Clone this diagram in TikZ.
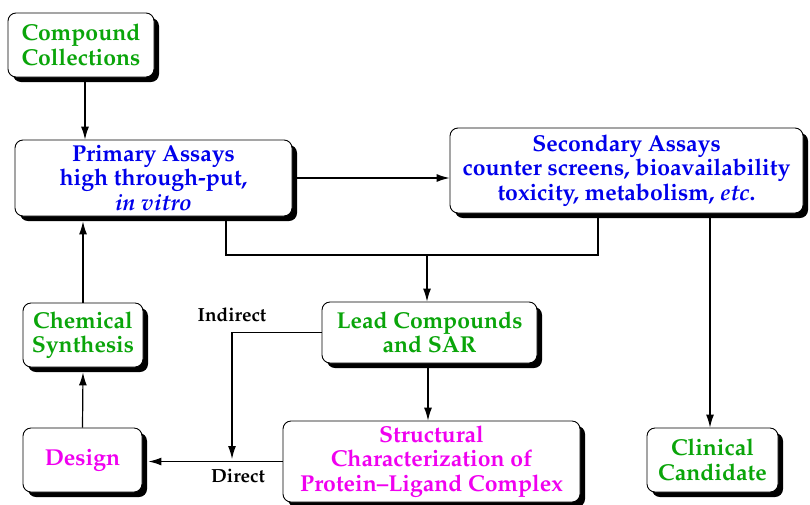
\documentclass[tikz,border=0pt]{standalone}
\usepackage[T1]{fontenc}
\usepackage{mathpazo}
\usetikzlibrary{shadows,backgrounds,arrows.meta}

\definecolor{boxgreen}{RGB}{10,165,10}
\definecolor{boxblue}{RGB}{0,0,235}
\definecolor{boxmagenta}{RGB}{240,0,240}

\begin{document}
\begin{tikzpicture}[line cap=round, line join=round, x=1pt, y=-1pt, >={Latex[length=13pt,width=8pt]},
        box/.style={draw, fill=white, rounded corners=8pt, line width=0.9pt, align=center,
            inner sep=0pt, font=\fontsize{23}{24.5}\selectfont\bfseries,
            drop shadow={shadow xshift=5pt, shadow yshift=-5pt, fill=black, opacity=1}},
        tag/.style={font=\fontsize{19}{21}\selectfont\bfseries},
        link/.style={line width=1.2pt}]

                \useasboundingbox (0,0) rectangle (810,504);

                \node[box, text=boxgreen, minimum width=146, minimum height=64] (comp) at (81,45) {Compound\\Collections};
                \node[box, text=boxblue, minimum width=277, minimum height=76] (prim) at (153.5,178) {Primary Assays\\high through-put,\\\textit{in vitro}};
                \node[box, text=boxblue, minimum width=353, minimum height=85] (sec) at (626.5,170.5) {Secondary Assays\\counter screens, bioavailability\\toxicity, metabolism, \textit{etc}.};
                \node[box, text=boxgreen, minimum width=120, minimum height=64] (chem) at (83,335) {Chemical\\Synthesis};
                \node[box, text=boxgreen, minimum width=215, minimum height=61] (lead) at (429.5,332.5) {Lead Compounds\\and SAR};
                \node[box, text=boxmagenta, minimum width=119, minimum height=64] (design) at (82.5,460) {Design};
                \node[box, text=boxmagenta, minimum width=297, minimum height=81] (struct) at (431.5,461.5) {Structural\\Characterization of\\Protein--Ligand Complex};
                \node[box, text=boxgreen, minimum width=131, minimum height=64] (clin) at (712.5,460) {Clinical\\Candidate};

                \node[tag] (indirect) at (232,315) {Indirect};
                \node[tag] (direct) at (238,476) {Direct};

                \coordinate (merge) at (427,255);
                \coordinate (split) at (232,459);

                \begin{pgfonlayer}{background}
                \draw[link,->] ([xshift=4pt]comp.south) -- ([xshift=4pt]comp.south |- prim.north);
                \draw[link,->] (prim.east) -- (prim.east -| sec.west);
                \draw[link] ([xshift=72.5pt]prim.south) |- ([xshift=-28.5pt]sec.south |- merge) -- ([xshift=-28.5pt]sec.south);
                \draw[link,->] (merge) -- (merge |- lead.north);
                \draw[link,->] ([xshift=-2.5pt]clin.north |- sec.south) -- ([xshift=-2.5pt]clin.north);
                \draw[link,->] ([xshift=-1.5pt]lead.south) -- ([xshift=-1.5pt]lead.south |- struct.north);
                \draw[link,->] (lead.west) -| (split);
                \draw[link,->] (struct.west) -- ([xshift=6pt]struct.west -| design.east);
                \draw[link,->] (design.north) -- ([yshift=-5pt]chem.south);
                \draw[link,->] (chem.north) -- ([yshift=-5pt]chem.north |- prim.south);
                \end{pgfonlayer}

\end{tikzpicture}
\end{document}
